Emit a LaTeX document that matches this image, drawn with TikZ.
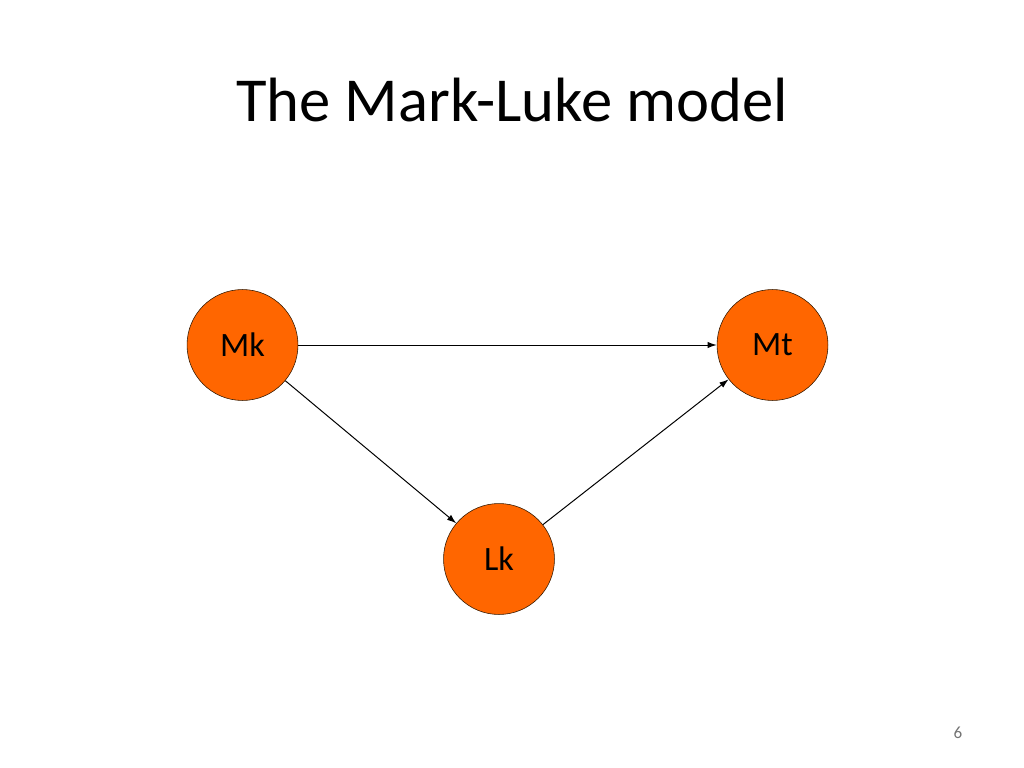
\documentclass[tikz,border=0pt]{standalone}
\usepackage{fontspec}
\setmainfont{Carlito}
\usetikzlibrary{arrows.meta}
\definecolor{nodeorange}{HTML}{FF6600}
\begin{document}
\begin{tikzpicture}[x=0.703125pt,y=-0.703125pt,
        var/.style={circle,draw=black!80!orange,line width=0.4pt,fill=nodeorange,minimum size=78pt,inner sep=0pt,font=\fontsize{24}{29}\selectfont},
        arr/.style={-{Latex[length=6.5pt,width=4.5pt]},line width=0.7pt}]
        \useasboundingbox (0,0) rectangle (1024,768);
        \node at (512,100) {\fontsize{44}{53}\selectfont The Mark-Luke model};
        \node[var] (mk) at (242.5,345) {Mk};
        \node[var] (mt) at (772.5,345) {Mt};
        \node[var] (lk) at (499,559) {Lk};
        \draw[arr] (mk)--(mt);
        \draw[arr] (mk)--(lk);
        \draw[arr] (lk)--(mt);
        \node at (958,733) {\fontsize{12}{14}\selectfont\color{black!55}6};
    \end{tikzpicture}
\end{document}
